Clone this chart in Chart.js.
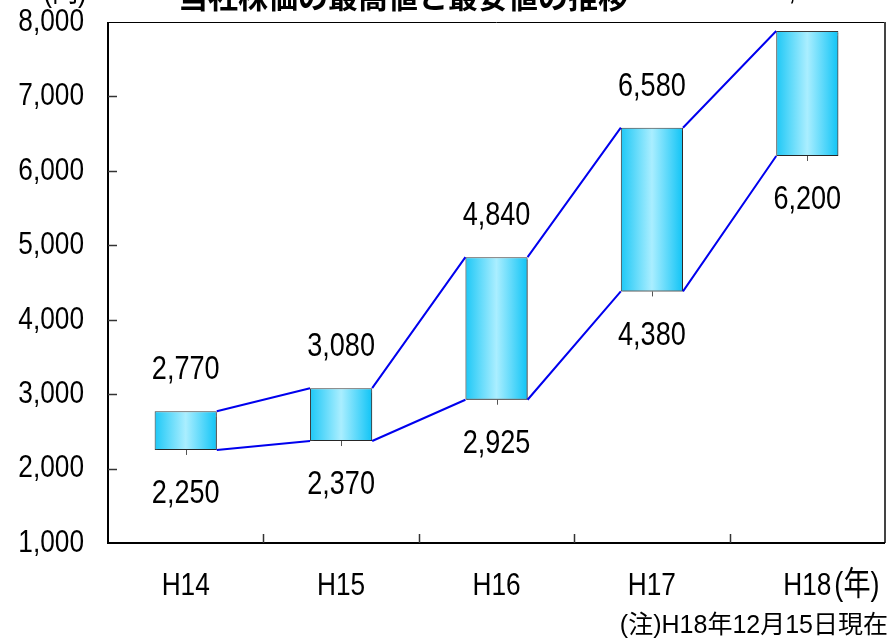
<!DOCTYPE html>
<html lang="ja">
<head>
<meta charset="utf-8">
<script src="https://cdn.jsdelivr.net/npm/chart.js@4/dist/chart.umd.min.js"></script>
<style>
  html, body { margin: 0; padding: 0; background: #fff; }
  #wrap { width: 895px; height: 642px; }
</style>
</head>
<body>
<div id="wrap"><canvas id="priceChart" width="895" height="642"></canvas></div>
<script>
const years = ['H14', 'H15', 'H16', 'H17', 'H18'];
const lowPrices = [2250, 2370, 2925, 4380, 6200];
const highPrices = [2770, 3080, 4840, 6580, 7880];
const yTicks = [1000, 2000, 3000, 4000, 5000, 6000, 7000, 8000];

const TXT_FONT = "'Liberation Sans', 'Noto Sans CJK JP', sans-serif";
const JP_FONT = "'Noto Sans CJK JP', sans-serif";
const NARROW = 0.82; // horizontal squeeze for the gothic-looking digits

function fmt(v) {
  return v.toLocaleString('en-US');
}

// draws text squeezed horizontally around its anchor point
function narrowText(ctx, text, x, y, align, size) {
  ctx.save();
  ctx.translate(x, y);
  ctx.scale(NARROW, 1);
  ctx.font = size + 'px ' + TXT_FONT;
  ctx.textAlign = align;
  ctx.textBaseline = 'middle';
  ctx.fillText(text, 0, 0);
  ctx.restore();
}

// horizontal cyan gradient across each bar
function barFill(context) {
  const chart = context.chart;
  const xScale = chart.scales.x;
  if (!xScale || !chart.chartArea) return '#33ccff';
  const cx = xScale.getPixelForValue(context.dataIndex);
  const w = (xScale.width / years.length) * 0.4;
  const g = chart.ctx.createLinearGradient(cx - w / 2, 0, cx + w / 2, 0);
  g.addColorStop(0, '#1ec8f6');
  g.addColorStop(0.5, '#aaeeff');
  g.addColorStop(1, '#10c4f6');
  return g;
}

const framePlugin = {
  id: 'frame',
  beforeDatasetsDraw(chart) {
    const ctx = chart.ctx;
    ctx.save();
    ctx.shadowColor = 'rgba(0,0,0,0.35)';
    ctx.shadowOffsetX = 1;
    ctx.shadowOffsetY = 2;
    ctx.shadowBlur = 1;
  },
  afterDatasetsDraw(chart) {
    const ctx = chart.ctx;
    ctx.restore();
    const { left, right, top, bottom } = chart.chartArea;
    const x = chart.scales.x;
    const y = chart.scales.y;
    const bars = chart.getDatasetMeta(0).data;

    // high/low connector lines between neighbouring bars
    ctx.save();
    ctx.strokeStyle = '#0000ee';
    ctx.lineWidth = 2;
    for (let i = 0; i < bars.length - 1; i++) {
      const a = bars[i], b = bars[i + 1];
      const ax = a.x + a.width / 2;
      const bx = b.x - b.width / 2;
      ctx.beginPath();
      ctx.moveTo(ax, y.getPixelForValue(highPrices[i]));
      ctx.lineTo(bx, y.getPixelForValue(highPrices[i + 1]));
      ctx.moveTo(ax, y.getPixelForValue(lowPrices[i]));
      ctx.lineTo(bx, y.getPixelForValue(lowPrices[i + 1]));
      ctx.stroke();
    }
    ctx.restore();

    // small mark under each bar
    ctx.save();
    ctx.strokeStyle = '#555';
    ctx.lineWidth = 1;
    bars.forEach((b, i) => {
      const by = y.getPixelForValue(lowPrices[i]);
      ctx.beginPath();
      ctx.moveTo(Math.round(b.x) + 0.5, by);
      ctx.lineTo(Math.round(b.x) + 0.5, by + 5);
      ctx.stroke();
    });
    ctx.restore();

    // value labels above / below bars
    ctx.fillStyle = '#000';
    bars.forEach((b, i) => {
      narrowText(ctx, fmt(highPrices[i]), b.x, y.getPixelForValue(highPrices[i]) - 41, 'center', 33);
      narrowText(ctx, fmt(lowPrices[i]), b.x, y.getPixelForValue(lowPrices[i]) + 44, 'center', 33);
    });

    // plot frame and inward ticks
    ctx.save();
    ctx.strokeStyle = '#000';
    ctx.lineWidth = 1;
    ctx.beginPath();
    ctx.moveTo(left, top + 0.5);
    ctx.lineTo(right, top + 0.5);
    ctx.stroke();
    ctx.strokeStyle = '#444';
    ctx.lineWidth = 2;
    ctx.beginPath();
    ctx.moveTo(right, top);
    ctx.lineTo(right, bottom);
    ctx.stroke();
    ctx.strokeStyle = '#000';
    ctx.beginPath();
    ctx.moveTo(left, top);
    ctx.lineTo(left, bottom);
    ctx.lineTo(right, bottom);
    ctx.stroke();

    ctx.strokeStyle = '#333';
    ctx.lineWidth = 1.5;
    yTicks.slice(1, -1).forEach(v => {
      const py = Math.round(y.getPixelForValue(v)) + 0.5;
      ctx.beginPath();
      ctx.moveTo(left, py);
      ctx.lineTo(left + 9, py);
      ctx.stroke();
    });
    for (let i = 1; i < years.length; i++) {
      const px = Math.round((x.getPixelForValue(i - 1) + x.getPixelForValue(i)) / 2) + 0.5;
      ctx.beginPath();
      ctx.moveTo(px, bottom);
      ctx.lineTo(px, bottom - 9);
      ctx.stroke();
    }
    ctx.restore();

    // axis tick labels
    ctx.fillStyle = '#000';
    yTicks.forEach(v => {
      narrowText(ctx, fmt(v), left - 24, y.getPixelForValue(v), 'right', 32);
    });
    years.forEach((yr, i) => {
      narrowText(ctx, yr, x.getPixelForValue(i), 586, 'center', 32);
    });
  },
  afterDraw(chart) {
    const ctx = chart.ctx;
    const x = chart.scales.x;
    ctx.save();
    ctx.fillStyle = '#000';

    // title, sitting mostly above the canvas edge
    ctx.font = 'bold 30px ' + JP_FONT;
    ctx.textAlign = 'center';
    ctx.textBaseline = 'alphabetic';
    ctx.fillText('当社株価の最高値と最安値の推移', 403, 8);
    ctx.restore();

    narrowText(ctx, '(円)', 40 + 25, -8, 'center', 32);

    // unit after the last category label
    const lastX = x.getPixelForValue(years.length - 1);
    ctx.save();
    ctx.font = '32px ' + TXT_FONT;
    const w = ctx.measureText(years[years.length - 1]).width * NARROW;
    ctx.restore();
    narrowText(ctx, '(年)', lastX + w / 2 + 3, 586, 'left', 33);

    ctx.save();
    ctx.fillStyle = '#000';
    ctx.font = '25px ' + TXT_FONT;
    ctx.textAlign = 'right';
    ctx.textBaseline = 'middle';
    ctx.fillText('(注)H18年12月15日現在', 888, 626);
    ctx.restore();
  }
};

const chart = new Chart(document.getElementById('priceChart').getContext('2d'), {
  type: 'bar',
  data: {
    labels: years,
    datasets: [{
      label: '株価',
      data: years.map((_, i) => [lowPrices[i], highPrices[i]]),
      backgroundColor: barFill,
      borderColor: '#3a3a3a',
      borderWidth: 1,
      borderSkipped: false,
      barPercentage: 0.4,
      categoryPercentage: 1
    }]
  },
  options: {
    responsive: false,
    animation: false,
    layout: {
      padding: { top: 22, right: 10, left: 0, bottom: 0 }
    },
    plugins: {
      legend: { display: false },
      tooltip: { enabled: false }
    },
    scales: {
      x: {
        grid: { display: false, drawTicks: false },
        border: { display: false },
        ticks: { display: false },
        afterFit(scale) { scale.height = 99; }
      },
      y: {
        min: 1000,
        max: 8000,
        grid: { display: false, drawTicks: false },
        border: { display: false },
        ticks: { display: false, stepSize: 1000 },
        afterFit(scale) { scale.width = 108; }
      }
    }
  },
  plugins: [framePlugin]
});
</script>
</body>
</html>
